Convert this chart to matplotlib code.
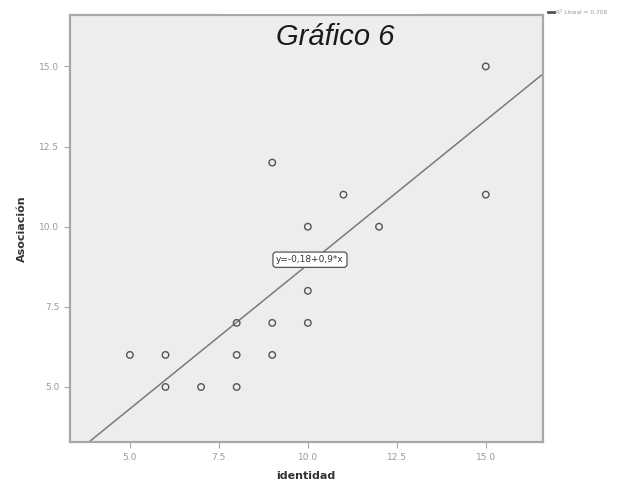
import matplotlib

matplotlib.use("Agg")
import matplotlib.pyplot as plt
from matplotlib.patches import Rectangle

# Puntuaciones por caso
identidad = [15, 9, 11, 15, 10, 12, 10, 8, 9, 10, 5, 6, 8, 9, 6, 7, 8]
asociacion = [15, 12, 11, 11, 10, 10, 8, 7, 7, 7, 6, 6, 6, 6, 5, 5, 5]

# Recta de ajuste lineal
intercepto = -0.18
pendiente = 0.9
r2 = 0.708

x_ticks = [5.0, 7.5, 10.0, 12.5, 15.0]
y_ticks = [5.0, 7.5, 10.0, 12.5, 15.0]
x_lim = (3.31, 16.6)
y_lim = (3.28, 16.6)

GRIS_FONDO = "#ededed"
GRIS_MARCO = "#a8a8a8"
GRIS_TEXTO = "#9a9a9a"

fig = plt.figure(figsize=(6.4, 4.88), dpi=100)
ax = fig.add_axes([0.109, 0.094, 0.739, 0.875])
ax.set_facecolor(GRIS_FONDO)

ax.scatter(identidad, asociacion, s=22, facecolors="none", edgecolors="#555555",
           linewidths=1.0, zorder=3)

xs = list(x_lim)
ax.plot(xs, [intercepto + pendiente * v for v in xs], color="#7a7a7a", lw=1.1, zorder=2)

ax.set_xlim(*x_lim)
ax.set_ylim(*y_lim)
ax.set_xticks(x_ticks)
ax.set_yticks(y_ticks)
ax.set_xticklabels([f"{t:.1f}" for t in x_ticks])
ax.set_yticklabels([f"{t:.1f}" for t in y_ticks])
ax.tick_params(direction="out", length=4, width=0.8, colors=GRIS_MARCO,
               labelcolor=GRIS_TEXTO, labelsize=6.5)
for spine in ax.spines.values():
    spine.set_color(GRIS_MARCO)
    spine.set_linewidth(1.6)

ax.set_xlabel("identidad", fontsize=8, fontweight="bold", color="#333333", labelpad=7)
ax.set_ylabel("Asociación", fontsize=8, fontweight="bold", color="#333333", labelpad=9)

ax.text(0.562, 0.948, "Gráfico 6", transform=ax.transAxes, ha="center", va="center",
        fontsize=21, style="italic", family="Liberation Sans", color="#1a1a1a")

ax.text(10.06, 8.97, f"y=-{abs(intercepto):.2f}+{pendiente:.1f}*x".replace(".", ","),
        ha="center", va="center", fontsize=6.5, color="#333333", zorder=4,
        bbox=dict(boxstyle="round,pad=0.35", fc="white", ec="#555555", lw=0.9))

# Leyenda del ajuste fuera del marco
fig.lines.append(plt.Line2D([0.856, 0.866], [0.975, 0.975], transform=fig.transFigure,
                            color="#555555", lw=2))
fig.text(0.869, 0.975, f"R² Lineal = {r2:.3f}".replace(".", ","), fontsize=4.2,
         color=GRIS_TEXTO, va="center", ha="left")

# Recuadro blanco tras el título
fig.patches.append(Rectangle((0.347, 0.972), 0.306, 0.03, transform=fig.transFigure,
                             facecolor="white", edgecolor="none", zorder=10))

fig.savefig("out.png", dpi=100, facecolor="white")
